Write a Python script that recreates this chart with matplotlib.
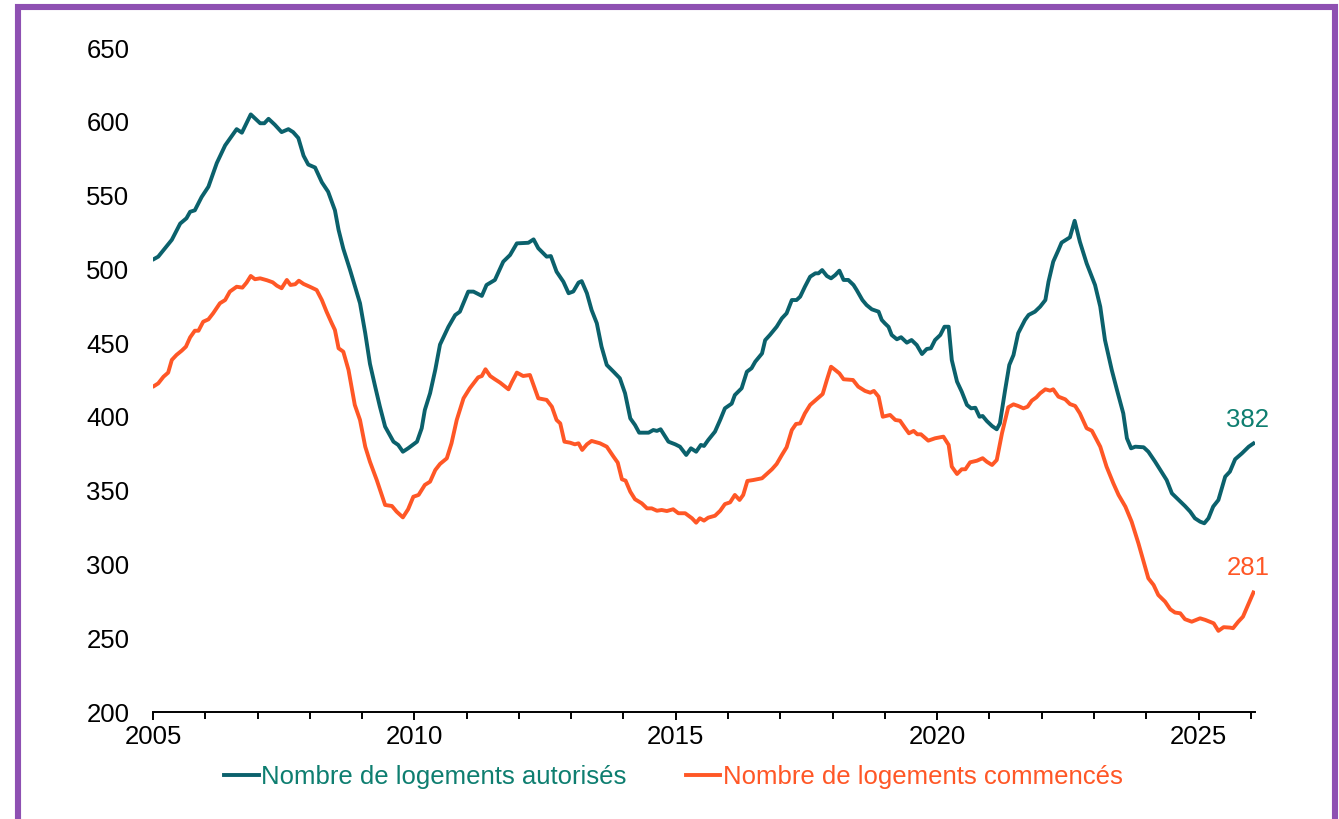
import matplotlib
matplotlib.use("Agg")
import matplotlib.pyplot as plt
from matplotlib.patches import Rectangle
from matplotlib.ticker import MultipleLocator, FixedLocator

plt.rcParams['font.family'] = ['Liberation Sans', 'DejaVu Sans']

# --- Data (decimal years, thousands of dwellings) ---
autorises_x = [2005.02, 2005.10, 2005.20, 2005.36, 2005.52, 2005.64, 2005.71, 2005.80, 2005.93,
               2006.06, 2006.22, 2006.38, 2006.60, 2006.70, 2006.87, 2007.05, 2007.13, 2007.21,
               2007.33, 2007.46, 2007.59, 2007.68, 2007.78, 2007.88, 2007.97, 2008.10, 2008.23,
               2008.35, 2008.48, 2008.55, 2008.64, 2008.77, 2008.96, 2009.06, 2009.15, 2009.25,
               2009.34, 2009.44, 2009.60, 2009.69, 2009.78, 2009.88, 2010.05, 2010.14, 2010.20,
               2010.30, 2010.40, 2010.49, 2010.65, 2010.78, 2010.87, 2011.03, 2011.13, 2011.29,
               2011.38, 2011.54, 2011.70, 2011.83, 2011.96, 2012.18, 2012.28, 2012.37, 2012.53,
               2012.61, 2012.72, 2012.85, 2012.95, 2013.04, 2013.14, 2013.20, 2013.30, 2013.39,
               2013.49, 2013.58, 2013.68, 2013.81, 2013.93, 2014.03, 2014.13, 2014.22, 2014.30,
               2014.48, 2014.57, 2014.64, 2014.71, 2014.86, 2014.99, 2015.08, 2015.20, 2015.29,
               2015.39, 2015.48, 2015.54, 2015.62, 2015.75, 2015.85, 2015.94, 2016.07, 2016.13,
               2016.26, 2016.36, 2016.45, 2016.52, 2016.65, 2016.71, 2016.80, 2016.93, 2017.03,
               2017.12, 2017.22, 2017.31, 2017.38, 2017.47, 2017.57, 2017.67, 2017.73, 2017.80,
               2017.89, 2017.97, 2018.05, 2018.13, 2018.21, 2018.30, 2018.40, 2018.46, 2018.57,
               2018.65, 2018.75, 2018.88, 2018.94, 2019.00, 2019.07, 2019.13, 2019.23, 2019.31,
               2019.42, 2019.51, 2019.61, 2019.71, 2019.80, 2019.88, 2019.96, 2020.06, 2020.14,
               2020.22, 2020.28, 2020.38, 2020.47, 2020.57, 2020.65, 2020.73, 2020.81, 2020.87,
               2020.95, 2021.05, 2021.14, 2021.20, 2021.30, 2021.38, 2021.46, 2021.55, 2021.68,
               2021.75, 2021.87, 2021.97, 2022.07, 2022.13, 2022.22, 2022.32, 2022.38, 2022.54,
               2022.63, 2022.73, 2022.86, 2023.02, 2023.12, 2023.21, 2023.34, 2023.44, 2023.56,
               2023.63, 2023.71, 2023.79, 2023.95, 2024.04, 2024.17, 2024.27, 2024.39, 2024.49,
               2024.62, 2024.74, 2024.84, 2024.93, 2025.03, 2025.11, 2025.19, 2025.28, 2025.38,
               2025.51, 2025.60, 2025.70, 2025.83, 2025.96, 2026.05]
autorises_y = [507, 508.6, 513, 520, 531, 534.6, 539, 540, 549,
               556, 572, 584, 595, 592.6, 605, 599, 599, 602,
               598, 593, 595, 593, 589, 577, 571, 569, 559,
               552.6, 540, 526.7, 514, 499.5, 477, 456.7, 436, 420.5,
               407, 393.4, 383.2, 381, 376.4, 378.7, 383.2, 392.3, 404.7,
               416, 432, 449, 461, 469, 471.3, 484.9, 484.9, 482,
               489.4, 492.8, 505.2, 509.7, 517.6, 518, 520.3, 514.3, 508.6,
               509, 498.4, 491.6, 483.8, 485, 491, 492, 483.8, 472.4,
               463.4, 447.6, 435.2, 430.6, 426.2, 416, 399, 394.5, 389.3,
               389.3, 391.1, 390.5, 391.6, 383.2, 381.4, 379.8, 374.2, 378.7,
               376.4, 381, 380.3, 384.3, 390, 398, 405.8, 409, 414.8,
               419.4, 430.6, 433, 437.4, 443, 452, 455.5, 461.1, 466.8,
               470.2, 479.2, 479.2, 481.5, 488.2, 495, 497.3, 497.3, 499.5,
               495.5, 493.9, 496.1, 499.1, 492.8, 492.8, 489.4, 486, 479.2,
               475.8, 472.9, 471.3, 465.7, 463.4, 461, 455.5, 452.6, 454,
               450.3, 452.1, 448.7, 442.6, 446, 446.5, 452.1, 455.5, 461.1,
               461.1, 438.5, 423.9, 417.1, 408.1, 405.8, 406.2, 400.1, 400.6,
               397.2, 393.8, 391.6, 395.6, 418.2, 435.2, 441.9, 456.7, 465.7,
               469.1, 471.3, 474.7, 479.2, 491.6, 505.2, 513.1, 518.1, 521.7,
               532.9, 518.7, 504, 489.4, 474.7, 452.1, 431.8, 418.2, 402.4,
               385.5, 378.7, 379.8, 379.4, 376.4, 369.6, 364, 357.2, 348.2,
               343.7, 339.6, 335.8, 331.3, 329, 327.9, 331.3, 339.2, 343.7,
               359.5, 362.9, 371.3, 375.3, 379.8, 382]

commences_x = [2005.02, 2005.10, 2005.20, 2005.29, 2005.36, 2005.45, 2005.55, 2005.63, 2005.71,
               2005.80, 2005.87, 2005.96, 2006.06, 2006.15, 2006.28, 2006.38, 2006.47, 2006.60,
               2006.71, 2006.79, 2006.87, 2006.95, 2007.05, 2007.18, 2007.29, 2007.37, 2007.46,
               2007.56, 2007.63, 2007.72, 2007.79, 2007.88, 2008.00, 2008.13, 2008.23, 2008.32,
               2008.42, 2008.48, 2008.55, 2008.64, 2008.74, 2008.86, 2008.96, 2009.06, 2009.15,
               2009.28, 2009.44, 2009.57, 2009.66, 2009.78, 2009.88, 2009.98, 2010.08, 2010.20,
               2010.30, 2010.40, 2010.49, 2010.62, 2010.71, 2010.81, 2010.94, 2011.06, 2011.22,
               2011.29, 2011.36, 2011.45, 2011.54, 2011.64, 2011.80, 2011.86, 2011.96, 2012.08,
               2012.21, 2012.37, 2012.53, 2012.63, 2012.72, 2012.79, 2012.87, 2012.98, 2013.07,
               2013.14, 2013.21, 2013.30, 2013.39, 2013.55, 2013.68, 2013.81, 2013.89, 2013.97,
               2014.04, 2014.13, 2014.22, 2014.35, 2014.45, 2014.54, 2014.64, 2014.73, 2014.83,
               2014.95, 2015.05, 2015.18, 2015.31, 2015.39, 2015.46, 2015.54, 2015.62, 2015.75,
               2015.85, 2015.94, 2016.04, 2016.13, 2016.22, 2016.29, 2016.37, 2016.48, 2016.65,
               2016.74, 2016.84, 2016.93, 2017.03, 2017.12, 2017.22, 2017.30, 2017.38, 2017.47,
               2017.57, 2017.68, 2017.81, 2017.89, 2017.97, 2018.05, 2018.13, 2018.21, 2018.39,
               2018.49, 2018.62, 2018.72, 2018.79, 2018.88, 2018.96, 2019.10, 2019.20, 2019.29,
               2019.39, 2019.46, 2019.55, 2019.62, 2019.69, 2019.83, 2019.96, 2020.12, 2020.22,
               2020.28, 2020.38, 2020.47, 2020.54, 2020.63, 2020.76, 2020.87, 2020.95, 2021.05,
               2021.14, 2021.24, 2021.36, 2021.46, 2021.55, 2021.65, 2021.73, 2021.81, 2021.90,
               2021.97, 2022.07, 2022.16, 2022.22, 2022.32, 2022.45, 2022.54, 2022.64, 2022.73,
               2022.86, 2022.96, 2023.12, 2023.24, 2023.37, 2023.47, 2023.60, 2023.72, 2023.85,
               2024.04, 2024.14, 2024.23, 2024.36, 2024.46, 2024.55, 2024.65, 2024.74, 2024.87,
               2025.03, 2025.13, 2025.29, 2025.38, 2025.48, 2025.60, 2025.66, 2025.76, 2025.85,
               2025.96, 2026.05]
commences_y = [420.9, 422.7, 427.2, 430, 438.6, 442, 444.9, 447.6, 453.9,
               458.4, 458.4, 464.5, 466.1, 470.2, 477, 479.2, 484.9, 488.2,
               487.6, 491, 495.5, 493.3, 493.9, 492.6, 491.2, 488.9, 487.2,
               492.8, 489.4, 489.9, 492.3, 490.1, 488.2, 486, 479.2, 471.3,
               463.4, 458.9, 446.5, 444.2, 431.8, 408.1, 397.9, 379.8, 369.6,
               357.2, 340.3, 339.6, 335.8, 331.9, 337.4, 345.9, 347.1, 353.9,
               356.1, 364, 368.1, 371.9, 382.1, 397.9, 412.6, 419.4, 426.8,
               427.7, 432.3, 427.7, 425.5, 423.2, 418.7, 423.2, 430, 427.7,
               428.4, 412.6, 411.5, 406.9, 397.9, 395.6, 383.2, 382.5, 381.4,
               382.1, 377.6, 381.4, 383.7, 382.1, 379.8, 373, 369, 357.7,
               356.8, 349.3, 344.2, 341.4, 338, 338, 336.4, 336.9, 336.2,
               337.4, 334.7, 334.7, 331.3, 328.3, 331.3, 329.7, 331.7, 333,
               336.4, 340.9, 342.1, 347.1, 343.7, 347.1, 356.6, 357.2, 358.4,
               361.3, 364.5, 368.1, 374.2, 379.4, 391.1, 395.2, 395.6, 402.4,
               408.1, 411.5, 415.5, 425, 434, 431.8, 429.5, 425.5, 425,
               420.5, 417.6, 416.4, 417.6, 413.7, 400.1, 401.3, 397.9, 397.4,
               392.3, 388.9, 390.5, 388.2, 388.2, 383.9, 385.5, 386.6, 381,
               366.3, 361.3, 364.5, 364.5, 369.2, 370.3, 372, 369.6, 367.4,
               370.8, 388.9, 406.5, 408.5, 407.4, 405.8, 406.9, 411, 413.3,
               416, 418.7, 417.8, 418.7, 413.7, 411.9, 408.7, 407.4, 402.4,
               392.3, 390.6, 379.8, 366.3, 355, 347.1, 339.2, 329, 314.3,
               290.6, 286.1, 279.3, 274.8, 269.6, 267.4, 266.9, 262.9, 261.2,
               263.5, 262.4, 260.1, 255, 257.5, 257.2, 256.8, 261.2, 264.6,
               273.7, 281]

series_labels = ["Nombre de logements autorisés", "Nombre de logements commencés"]
last_labels = ["382", "281"]
x_major = [2005, 2010, 2015, 2020, 2025]
y_ticks = [200, 250, 300, 350, 400, 450, 500, 550, 600, 650]

teal_line = "#0B616C"
teal_text = "#0E7E70"
orange = "#FF5726"
purple = "#8E50B2"
FS = 18.5

W, H, DPI = 1339, 819, 100
fig = plt.figure(figsize=(W / DPI, H / DPI), dpi=DPI)
fig.patch.set_facecolor("white")

ax = fig.add_axes([153 / W, 1 - 712 / H, (1255 - 153) / W, (712 - 48) / H])

ax.plot(autorises_x, autorises_y, color=teal_line, lw=2.8, solid_joinstyle="round",
        label=series_labels[0])
ax.plot(commences_x, commences_y, color=orange, lw=2.8, solid_joinstyle="round",
        label=series_labels[1])

ax.set_xlim(2005, 2026.08)
ax.set_ylim(200, 650)
ax.set_yticks(y_ticks)
ax.xaxis.set_major_locator(FixedLocator(x_major))
ax.xaxis.set_minor_locator(MultipleLocator(1))

for s in ["top", "right", "left"]:
    ax.spines[s].set_visible(False)
ax.spines["bottom"].set_linewidth(1.4)
ax.spines["bottom"].set_color("black")

ax.tick_params(axis="y", length=0, pad=17, labelsize=FS, labelcolor="black")
ax.tick_params(axis="x", which="major", length=5.5, width=1.4, pad=4, labelsize=FS,
               direction="out", color="black")
ax.tick_params(axis="x", which="minor", length=4.8, width=1.4, direction="out", color="black")

# End-value labels
ax.annotate(last_labels[0], xy=(autorises_x[-1], autorises_y[-1]), xytext=(-4, 8),
            textcoords="offset points", ha="center", va="bottom", fontsize=FS, color=teal_text)
ax.annotate(last_labels[1], xy=(commences_x[-1], commences_y[-1]), xytext=(-4, 9),
            textcoords="offset points", ha="center", va="bottom", fontsize=FS, color=orange)

leg = fig.legend(loc="center", bbox_to_anchor=(0.5 + 4 / W, 1 - 777 / H),
                 bbox_transform=fig.transFigure,
                 ncol=2, frameon=False, fontsize=FS, handlelength=1.35, handletextpad=0.1,
                 columnspacing=2.3, borderaxespad=0)
for txt, c in zip(leg.get_texts(), [teal_text, orange]):
    txt.set_color(c)

# Purple frame
fig.patches.append(Rectangle((18 / W, -0.05), (1335 - 18) / W, 1.05 - 7 / H,
                             transform=fig.transFigure, fill=False, edgecolor=purple,
                             linewidth=4.4, clip_on=False))

fig.savefig("out.png", dpi=DPI, facecolor="white")
